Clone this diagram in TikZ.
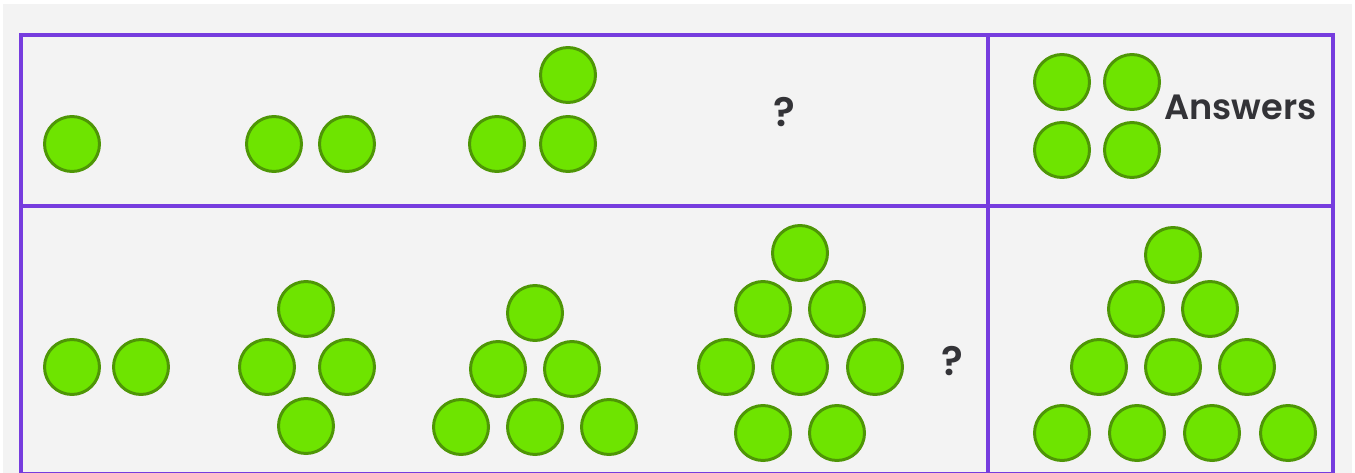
\documentclass[tikz,border=0pt]{standalone}
\usepackage{fontspec}
\setmainfont{Poppins}[UprightFont={* SemiBold},BoldFont={* SemiBold}]
\definecolor{pzbg}{RGB}{243,243,243}
\definecolor{pzgrid}{RGB}{118,60,222}
\definecolor{pzfill}{RGB}{110,228,0}
\definecolor{pzedge}{RGB}{78,150,6}
\definecolor{pztext}{RGB}{51,51,55}
\usetikzlibrary{positioning}

\begin{document}
\begin{tikzpicture}[
  x=0.02cm, y=-0.02cm,
  ball/.style={circle,draw=pzedge,fill=pzfill,line width=1.7pt,minimum size=1.1cm,inner sep=0pt},
  label/.style={text=pztext,font=\fontsize{20}{24}\selectfont,inner sep=0pt},
  qmark/.style={text=pztext,font=\fontsize{23}{27}\selectfont,inner sep=0pt},
  gridline/.style={draw=pzgrid,line width=2pt},
]
  \useasboundingbox (0,0) rectangle (1355,473);
  % Background panel
  \fill[pzbg] (3,4) rectangle (1352,480);
  % Grid
  \draw[gridline] (21,35) rectangle (1333,474);
  \draw[gridline] (21,206) -- (1333,206);
  \draw[gridline] (988,35) -- (988,474);

  % Row 1: 1, 2, 3, ?
  \node[ball] (r1a) at (72,144) {};
  \node[ball] (r1b1) at (274,144) {};
  \node[ball] (r1b2) at (347,144) {};
  \node[ball] (r1c1) at (497,144) {};
  \node[ball] (r1c2) at (568,144) {};
  \node[ball] (r1c3) at (568,75) {};
  \node[qmark] (r1q) at (784,112) {?};
  % Row 1: answer
  \node[ball] (r1s1) at (1062,82) {};
  \node[ball] (r1s2) at (1132,82) {};
  \node[ball] (r1s3) at (1062,150) {};
  \node[ball] (r1s4) at (1132,150) {};
  \node[label,anchor=west] (ans) at (1164,107) {Answers};

  % Row 2: 2, 4, 6, 8, ?
  \node[ball] (r2a1) at (72,367) {};
  \node[ball] (r2a2) at (141,367) {};
  \node[ball] (r2b1) at (306,309) {};
  \node[ball] (r2b2) at (267,367) {};
  \node[ball] (r2b3) at (347,367) {};
  \node[ball] (r2b4) at (306,426) {};
  \node[ball] (r2c1) at (535,313) {};
  \node[ball] (r2c2) at (498,369) {};
  \node[ball] (r2c3) at (572,369) {};
  \node[ball] (r2c4) at (461,427) {};
  \node[ball] (r2c5) at (535,427) {};
  \node[ball] (r2c6) at (609,427) {};
  \node[ball] (r2d1) at (800,253) {};
  \node[ball] (r2d2) at (763,309) {};
  \node[ball] (r2d3) at (837,309) {};
  \node[ball] (r2d4) at (726,367) {};
  \node[ball] (r2d5) at (800,367) {};
  \node[ball] (r2d6) at (875,367) {};
  \node[ball] (r2d7) at (763,433) {};
  \node[ball] (r2d8) at (837,433) {};
  \node[qmark] (r2q) at (952,361) {?};
  % Row 2: answer
  \node[ball] (r2s1) at (1173,255) {};
  \node[ball] (r2s2) at (1136,309) {};
  \node[ball] (r2s3) at (1210,309) {};
  \node[ball] (r2s4) at (1099,367) {};
  \node[ball] (r2s5) at (1173,367) {};
  \node[ball] (r2s6) at (1247,367) {};
  \node[ball] (r2s7) at (1062,433) {};
  \node[ball] (r2s8) at (1137,433) {};
  \node[ball] (r2s9) at (1212,433) {};
  \node[ball] (r2s10) at (1288,433) {};
\end{tikzpicture}
\end{document}
